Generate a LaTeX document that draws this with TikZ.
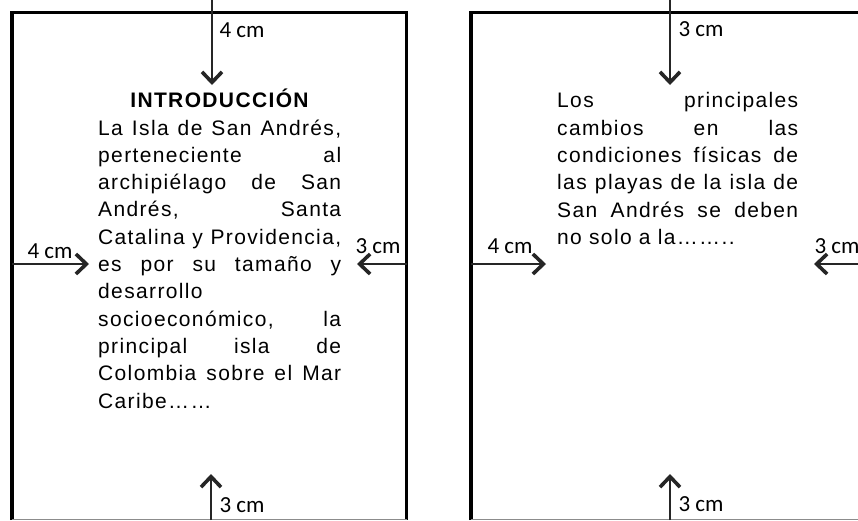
\documentclass[tikz,border=0pt]{standalone}
\usepackage{fontspec}
\setmainfont{Liberation Sans}
\newfontfamily\bodyfont[LetterSpace=6.5]{Liberation Sans}
\newfontfamily\labelfont{Carlito}
\usetikzlibrary{arrows.meta}
\newcommand\jleft[1]{\makebox[243pt][s]{#1}}
\newcommand\jright[1]{\makebox[241pt][s]{#1}}
\begin{document}
\begin{tikzpicture}[x=1pt,y=-1pt,
  frame/.style={line width=3.6pt},
  bottomline/.style={line width=1pt, black!45},
  margin/.style={line width=1.3pt, black!85, -{Straight Barb[length=10.5pt,width=20pt,line width=3.6pt]}},
  lbl/.style={font=\labelfont\fontsize{23}{24}\selectfont, inner sep=0pt},
  txt/.style={font=\bodyfont\fontsize{21}{21}\selectfont, inner sep=0pt, anchor=base west}
]
\useasboundingbox (0,0) rectangle (858,520);
% frames
\draw[frame] (12,520) -- (12,12.5) -- (406.5,12.5) -- (406.5,520);
\draw[frame] (471,520) -- (471,12.5) -- (860,12.5);
\draw[bottomline] (12,519.3) -- (406.5,519.3);
\draw[bottomline] (471,519.3) -- (858,519.3);

% left page arrows
\coordinate (LTs) at (212,0);   \coordinate (LTe) at (212,85);
\coordinate (LLs) at (12,264);  \coordinate (LLe) at (89,264);
\coordinate (LRs) at (406.5,264); \coordinate (LRe) at (357,264);
\coordinate (LBs) at (211,520); \coordinate (LBe) at (211,474);
\draw[margin] (LTs) -- (LTe);
\draw[margin] (LLs) -- (LLe);
\draw[margin] (LRs) -- (LRe);
\draw[margin] (LBs) -- (LBe);
\node[lbl] (lt) at (242,30) {4 cm};
\node[lbl] (ll) at (50,251) {4 cm};
\node[lbl] (lr) at (378,246) {3 cm};
\node[lbl] (lb) at (242,505) {3 cm};

% right page arrows
\coordinate (RTs) at (670,0);   \coordinate (RTe) at (670,85);
\coordinate (RLs) at (471,264); \coordinate (RLe) at (546,264);
\coordinate (RRs) at (858,264); \coordinate (RRe) at (814,264);
\coordinate (RBs) at (670,520); \coordinate (RBe) at (670,474);
\draw[margin] (RTs) -- (RTe);
\draw[margin] (RLs) -- (RLe);
\draw[margin] (RRs) -- (RRe);
\draw[margin] (RBs) -- (RBe);
\node[lbl] (rt) at (701,29) {3 cm};
\node[lbl] (rl) at (510,246) {4 cm};
\node[lbl] (rr) at (837,246) {3 cm};
\node[lbl] (rb) at (701,504) {3 cm};

% left page text
\node[font=\bodyfont\bfseries\fontsize{21}{21}\selectfont, inner sep=0pt, anchor=base] (title) at (219.5,107) {INTRODUCCIÓN};
\node[txt] (a1) at (98,135)   {\jleft{La Isla de San Andrés,}};
\node[txt] (a2) at (98,162.3) {\jleft{perteneciente al}};
\node[txt] (a3) at (98,189.6) {\jleft{archipiélago de San}};
\node[txt] (a4) at (98,216.9) {\jleft{Andrés, Santa}};
\node[txt] (a5) at (98,244.2) {\jleft{Catalina y Providencia,}};
\node[txt] (a6) at (98,271.5) {\jleft{es por su tamaño y}};
\node[txt] (a7) at (98,298.8) {desarrollo};
\node[txt] (a8) at (98,326.1) {\jleft{socioeconómico, la}};
\node[txt] (a9) at (98,353.4) {\jleft{principal isla de}};
\node[txt] (a10) at (98,380.7) {\jleft{Colombia sobre el Mar}};
\node[txt] (a11) at (98,408) {Caribe……};

% right page text
\node[txt] (b1) at (557,107.5) {\jright{Los principales}};
\node[txt] (b2) at (557,135)   {\jright{cambios en las}};
\node[txt] (b3) at (557,162.4) {\jright{condiciones físicas de}};
\node[txt] (b4) at (557,189.8) {\jright{las playas de la isla de}};
\node[txt] (b5) at (557,217.2) {\jright{San Andrés se deben}};
\node[txt] (b6) at (557,244.6) {no solo a la……..};
\end{tikzpicture}
\end{document}
